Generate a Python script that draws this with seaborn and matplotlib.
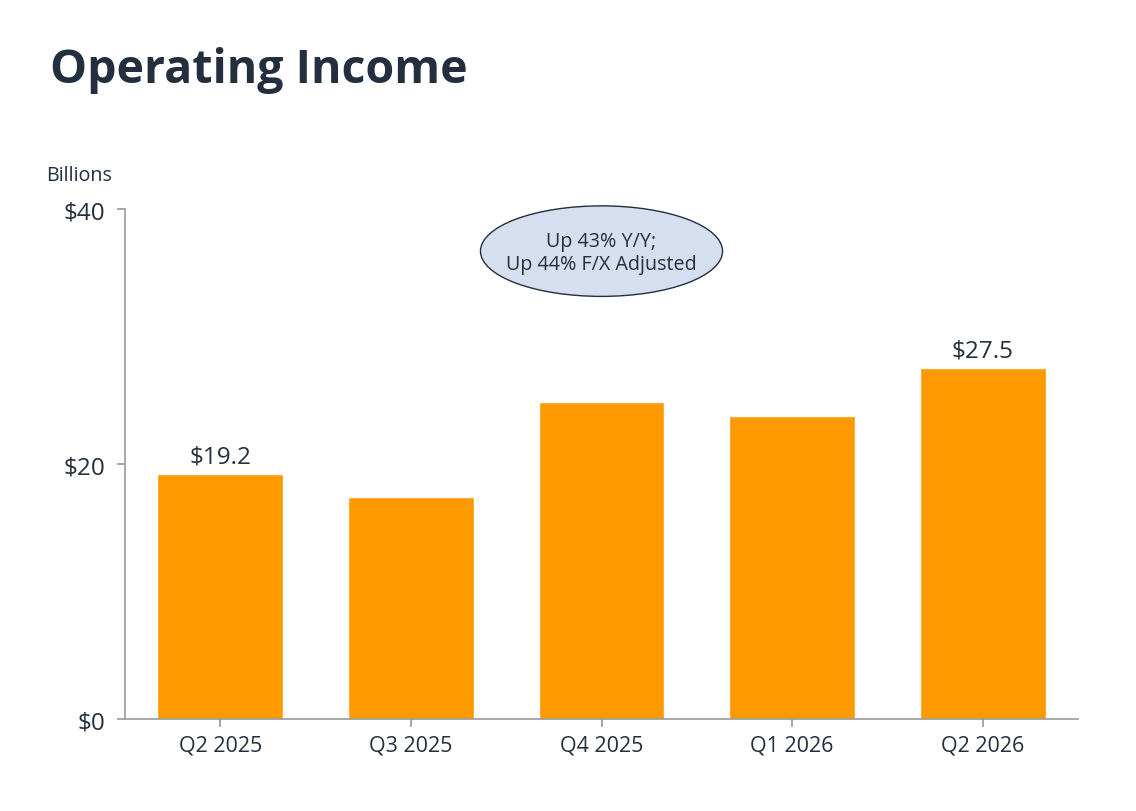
import matplotlib
matplotlib.use("Agg")
import matplotlib.pyplot as plt
from matplotlib.patches import Ellipse
import seaborn as sns
import pandas as pd

# data
quarters = ["Q2 2025", "Q3 2025", "Q4 2025", "Q1 2026", "Q2 2026"]
income = [19.2, 17.4, 24.9, 23.8, 27.5]
labelled = ["$19.2", "", "", "", "$27.5"]
y_ticks = [0, 20, 40]
note = "Up 43% Y/Y;\nUp 44% F/X Adjusted"

dark = "#232F3E"
orange = "#FF9900"
grey = "#9A9A9A"

sns.set_theme(style="white")
plt.rcParams["font.family"] = ["Open Sans", "DejaVu Sans"]

df = pd.DataFrame({"quarter": quarters, "income": income})

fig = plt.figure(figsize=(11.36, 8.12), dpi=100)
ax = fig.add_axes([0.110, 0.1133, 0.839, 0.628])

sns.barplot(data=df, x="quarter", y="income", color=orange, saturation=1,
            width=0.66, ax=ax)

ax.set_ylim(0, 40)
ax.set_xlim(-0.5, 4.5)
ax.set_yticks(y_ticks)
ax.set_yticklabels(["$" + str(v) for v in y_ticks], fontsize=17.5, color=dark)
ax.tick_params(axis="x", labelsize=15.5, labelcolor=dark, length=6,
               color=grey, bottom=True, pad=5)
ax.tick_params(axis="y", length=6, color=grey, left=True, pad=8)
ax.set_xlabel("")
ax.set_ylabel("")

for side in ["top", "right"]:
    ax.spines[side].set_visible(False)
for side in ["left", "bottom"]:
    ax.spines[side].set_color(grey)
    ax.spines[side].set_linewidth(1.2)

ax.bar_label(ax.containers[0], labels=labelled, padding=4, fontsize=17.5, color=dark)

# callout
ax.add_patch(Ellipse((2.0, 36.7), 1.27, 7.1, facecolor="#D5DFEF",
                     edgecolor=dark, linewidth=1.0, clip_on=False, zorder=5))
ax.text(2.0, 36.6, note, ha="center", va="center", fontsize=14.2,
        color=dark, linespacing=1.25, zorder=6)

fig.text(0.044, 0.913, "Operating Income", fontsize=33.5, fontweight="bold",
         color=dark, va="center", ha="left")
fig.text(0.041, 0.783, "Billions", fontsize=14.2, color=dark, va="center", ha="left")

fig.savefig("out.png", dpi=100, facecolor="white")
